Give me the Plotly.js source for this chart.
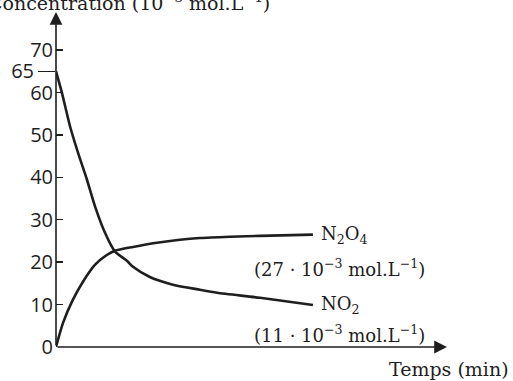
<!DOCTYPE html>
<html>
<head>
<meta charset="utf-8">
<script src="https://cdn.plot.ly/plotly-3.0.1.min.js"></script>
<style>
  html, body { margin: 0; padding: 0; background: #ffffff; }
  #chart { width: 513px; height: 381px; }
</style>
</head>
<body>
<div id="chart"></div>
<script>
// temps (unités arbitraires, l'axe n'a pas de graduation)
const timeN2O4 = [0, 1.8, 4.3, 6.9, 10.0, 13.0, 15.1, 19.7, 25.8, 31.7, 36.8, 44.5, 52.2, 65.7];
const concN2O4 = [0, 5.7, 11.1, 15.4, 19.4, 21.7, 22.7, 23.6, 24.6, 25.3, 25.7, 26.0, 26.2, 26.5];

const timeNO2 = [0, 1.5, 3.6, 5.6, 7.9, 10.0, 12.5, 15.1, 18.2, 19.7, 24.0, 29.9, 36.8, 41.2, 52.2, 65.7];
const concNO2 = [65, 60, 52, 45.9, 39.5, 33.1, 27, 22.5, 20.3, 18.9, 16.5, 14.7, 13.5, 12.8, 11.6, 9.9];

const yTicks = [0, 10, 20, 30, 40, 50, 60, 70];
const startTick = [65];

const xMax = 100;
const yMax = 79;

const ink = '#1e1e1e';
const serif = 'DejaVu Serif, serif';
const sans = 'Open Sans, sans-serif';

function curve(x, y) {
  return {
    x: x, y: y,
    mode: 'lines',
    line: { color: ink, width: 2.6, shape: 'spline', smoothing: 0.7 },
    hoverinfo: 'skip',
    showlegend: false
  };
}

const data = [curve(timeN2O4, concN2O4), curve(timeNO2, concNO2)];
// trace invisible pour activer l'axe y2 (graduation 65)
data.push({ x: [0], y: [65], yaxis: 'y2', mode: 'markers', marker: { opacity: 0 }, hoverinfo: 'skip', showlegend: false });

const last = a => a[a.length - 1];

function label(text, x, y, anchor) {
  return {
    text: text, x: x, y: y, xref: 'x', yref: 'y',
    xanchor: anchor || 'left', yanchor: 'middle',
    showarrow: false,
    font: { family: serif, size: 18, color: ink }
  };
}

function axisArrow(x, y) {
  return {
    x: x, y: y, ax: 0, ay: 0, xref: 'x', yref: 'y', axref: 'x', ayref: 'y',
    text: '', showarrow: true, arrowhead: 2, arrowsize: 1.6, arrowwidth: 1.6,
    arrowcolor: ink, standoff: 0, startstandoff: 0
  };
}

const layout = {
  width: 513,
  height: 381,
  margin: { l: 56, r: 66, t: 12, b: 34 },
  paper_bgcolor: '#ffffff',
  plot_bgcolor: '#ffffff',
  showlegend: false,
  xaxis: {
    range: [0, xMax],
    showgrid: false, zeroline: false, showline: false,
    showticklabels: false, ticks: ''
  },
  yaxis: {
    range: [0, yMax],
    tickvals: yTicks,
    ticks: 'inside', ticklen: 7, tickwidth: 1.4, tickcolor: ink,
    showgrid: false, zeroline: false, showline: false,
    ticklabelstandoff: 2,
    tickfont: { family: sans, size: 20, color: ink }
  },
  yaxis2: {
    overlaying: 'y', matches: 'y', side: 'left',
    tickvals: startTick,
    ticks: 'outside', ticklen: 17, tickwidth: 1.4, tickcolor: ink,
    showgrid: false, zeroline: false, showline: false,
    tickfont: { family: sans, size: 20, color: ink }
  },
  annotations: [
    axisArrow(0, yMax),
    axisArrow(xMax, 0),
    label('N<sub>2</sub>O<sub>4</sub>', last(timeN2O4) + 1.5, last(concN2O4)),
    label('(27 · 10<sup>−3</sup> mol.L<sup>−1</sup>)', 50, 18.7),
    label('NO<sub>2</sub>', last(timeNO2) + 1.5, last(concNO2)),
    label('(11 · 10<sup>−3</sup> mol.L<sup>−1</sup>)', 50, 3.0),
    {
      text: 'Temps (min)',
      xref: 'paper', yref: 'paper', x: 0.847, y: -0.066,
      xanchor: 'left', yanchor: 'middle', showarrow: false,
      font: { family: serif, size: 19, color: ink }
    },
    {
      text: 'Concentration (10<sup>−3</sup> mol.L<sup>−1</sup>)',
      xref: 'paper', yref: 'paper', x: 0.552, y: 1.030,
      xanchor: 'right', yanchor: 'middle', showarrow: false,
      font: { family: serif, size: 19, color: ink }
    }
  ]
};

Plotly.newPlot('chart', data, layout, { displayModeBar: false, staticPlot: true });
</script>
</body>
</html>
